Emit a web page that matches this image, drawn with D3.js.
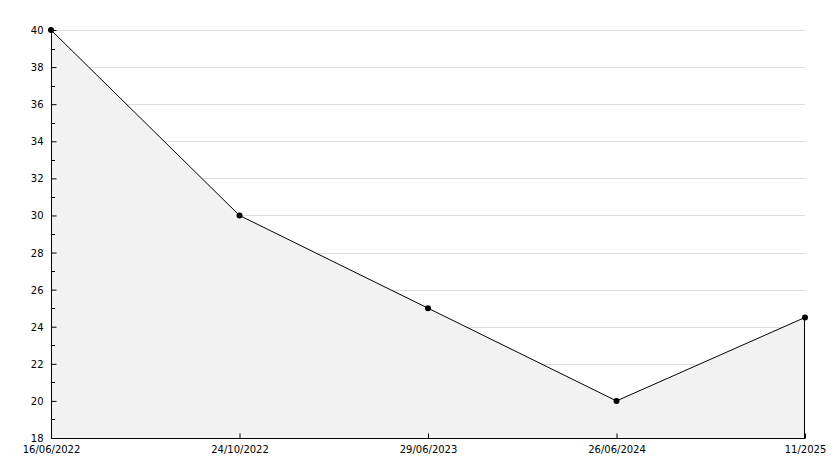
<!DOCTYPE html>
<html>
<head>
<meta charset="utf-8">
<script src="https://cdn.jsdelivr.net/npm/d3@7"></script>
<style>
  body { margin: 0; background: #fff; }
  svg text { font-family: "DejaVu Sans", sans-serif; font-size: 10px; fill: #000; }
</style>
</head>
<body>
<div id="chart"></div>
<script>
// data
const dates = ["16/06/2022", "24/10/2022", "29/06/2023", "26/06/2024", "11/2025"];
const values = [40, 30, 25, 20, 24.5];
const yTicks = [18, 20, 22, 24, 26, 28, 30, 32, 34, 36, 38, 40];

const W = 834, H = 468;
const margin = {top: 30, right: 29, bottom: 30, left: 51},
    width = W - margin.left - margin.right,
    height = H - margin.top - margin.bottom;

const svg = d3.select("#chart")
  .append("svg")
    .attr("width", W)
    .attr("height", H)
  .append("g")
    .attr("transform", `translate(${margin.left}, ${margin.top})`);

const data = dates.map((d, i) => ({date: d, value: values[i]}));

// X axis
const x = d3.scalePoint()
  .domain(dates)
  .range([0, width]);

// Y axis
const y = d3.scaleLinear()
  .domain([18, 40])
  .range([height, 0]);

// grid lines
svg.append("g")
  .selectAll("line")
  .data(yTicks.filter(t => t > 18))
  .enter()
  .append("line")
    .attr("x1", 0)
    .attr("x2", width)
    .attr("y1", d => Math.round(y(d)) + 0.5)
    .attr("y2", d => Math.round(y(d)) + 0.5)
    .attr("stroke", "#dcdcdc");

// area
svg.append("path")
  .datum(data)
  .attr("fill", "#f2f2f2")
  .attr("d", d3.area()
    .x(d => x(d.date))
    .y0(height)
    .y1(d => y(d.value)));

// right edge of fill
svg.append("line")
  .attr("x1", width - 0.5).attr("x2", width - 0.5)
  .attr("y1", y(values[values.length - 1])).attr("y2", height)
  .attr("stroke", "#000");

// line
svg.append("path")
  .datum(data)
  .attr("fill", "none")
  .attr("stroke", "#000")
  .attr("stroke-width", 1)
  .attr("d", d3.line()
    .x(d => x(d.date))
    .y(d => y(d.value)));

// minor ticks on y
const minor = d3.range(19, 40, 2);
svg.append("g")
  .selectAll("line")
  .data(minor)
  .enter()
  .append("line")
    .attr("x1", 0).attr("x2", 4)
    .attr("y1", d => Math.round(y(d)) + 0.5)
    .attr("y2", d => Math.round(y(d)) + 0.5)
    .attr("stroke", "#000");

// y axis
const yAxis = svg.append("g")
  .attr("transform", "translate(0.5,0)")
  .call(d3.axisRight(y).tickValues(yTicks).tickSize(5).tickFormat(d3.format("d")));
yAxis.select(".domain").attr("d", `M0,0V${height}`).attr("stroke", "#000");
yAxis.selectAll(".tick text")
  .attr("x", -8)
  .attr("text-anchor", "end")
  .attr("dy", "0.35em")
  .style("font-family", "DejaVu Sans, sans-serif")
  .style("font-size", "10px");

// x axis
const xAxis = svg.append("g")
  .attr("transform", `translate(0, ${height + 0.5})`)
  .call(d3.axisTop(x).tickSize(5));
xAxis.select(".domain").attr("d", `M0,0H${width}`).attr("stroke", "#000");
xAxis.selectAll(".tick text")
  .attr("y", 11)
  .attr("dy", "0.35em")
  .style("font-family", "DejaVu Sans, sans-serif")
  .style("font-size", "10px");

// markers
svg.selectAll("circle.pt")
  .data(data)
  .enter()
  .append("circle")
    .attr("class", "pt")
    .attr("cx", d => x(d.date))
    .attr("cy", d => y(d.value))
    .attr("r", 3)
    .attr("fill", "#000");
</script>
</body>
</html>
